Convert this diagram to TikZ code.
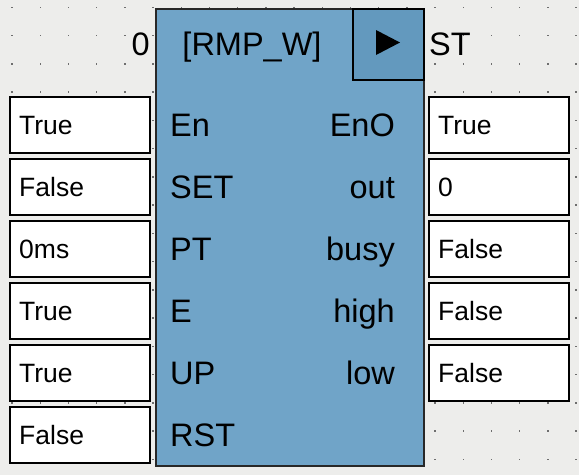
\documentclass[tikz,border=0pt]{standalone}
\usepackage{fontspec}
\setmainfont{Liberation Sans}
\definecolor{bgc}{RGB}{237,237,235}
\definecolor{dotc}{RGB}{110,110,110}
\definecolor{blockc}{RGB}{112,164,200}
\definecolor{runc}{RGB}{99,153,190}
\definecolor{edgec}{RGB}{40,40,40}
\tikzset{
  fbdblock/.style={draw=edgec, line width=2pt, fill=blockc, anchor=north west, minimum width=268pt, minimum height=457pt, inner sep=0pt},
  runbox/.style={draw=black, line width=2pt, fill=runc, anchor=north west, minimum width=71pt, minimum height=71pt, inner sep=0pt},
  valbox/.style={draw=black, line width=2.4pt, fill=white, anchor=north west, minimum height=56pt, text width=122pt, text height=18pt, text depth=0pt, inner xsep=9pt, inner ysep=0pt, align=left, font=\fontsize{26.5}{30}\selectfont},
  pinl/.style={anchor=base west, inner sep=0pt, font=\fontsize{32.5}{38}\selectfont},
  pinr/.style={anchor=base east, inner sep=0pt, font=\fontsize{32.5}{38}\selectfont},
  ttl/.style={inner sep=0pt, font=\fontsize{32.5}{38}\selectfont}
}
\begin{document}
\begin{tikzpicture}[x=1pt, y=-1pt]
\useasboundingbox (0,0) rectangle (579,475);
\fill[bgc] (0,0) rectangle (579,475);
\foreach \i in {0,...,20}{
  \foreach \j in {0,...,16}{
    \fill[dotc] ({12+28.2*\i-0.7},{7.3+28.25*\j-0.7}) rectangle ++(1.4,1.4);
  }
}
\node[fbdblock] (blk) at (155,8) {};
\node[runbox] (run) at (352,8) {};
\fill[black] (376,30) -- (400,42.5) -- (376,55) -- cycle;
\node[ttl, anchor=base] (title) at (252,55) {[RMP\_W]};
\node[ttl, anchor=base east] (zero) at (150,55) {0};
\node[ttl, anchor=base west] (st) at (429,55) {ST};
% inputs
\node[valbox] (i1) at (9,96) {True};
\node[valbox] (i2) at (9,158) {False};
\node[valbox] (i3) at (9,220) {0ms};
\node[valbox] (i4) at (9,282) {True};
\node[valbox] (i5) at (9,344) {True};
\node[valbox] (i6) at (9,406) {False};
% outputs
\node[valbox] (o1) at (428,96) {True};
\node[valbox] (o2) at (428,158) {0};
\node[valbox] (o3) at (428,220) {False};
\node[valbox] (o4) at (428,282) {False};
\node[valbox] (o5) at (428,344) {False};
% pin labels
\node[pinl] (pEn) at (170,136) {En};
\node[pinl] (pSET) at (170,198) {SET};
\node[pinl] (pPT) at (170,260) {PT};
\node[pinl] (pE) at (170,322) {E};
\node[pinl] (pUP) at (170,384) {UP};
\node[pinl] (pRST) at (170,446) {RST};
\node[pinr] (qEnO) at (395,136) {EnO};
\node[pinr] (qout) at (395,198) {out};
\node[pinr] (qbusy) at (395,260) {busy};
\node[pinr] (qhigh) at (395,322) {high};
\node[pinr] (qlow) at (395,384) {low};
\end{tikzpicture}
\end{document}
